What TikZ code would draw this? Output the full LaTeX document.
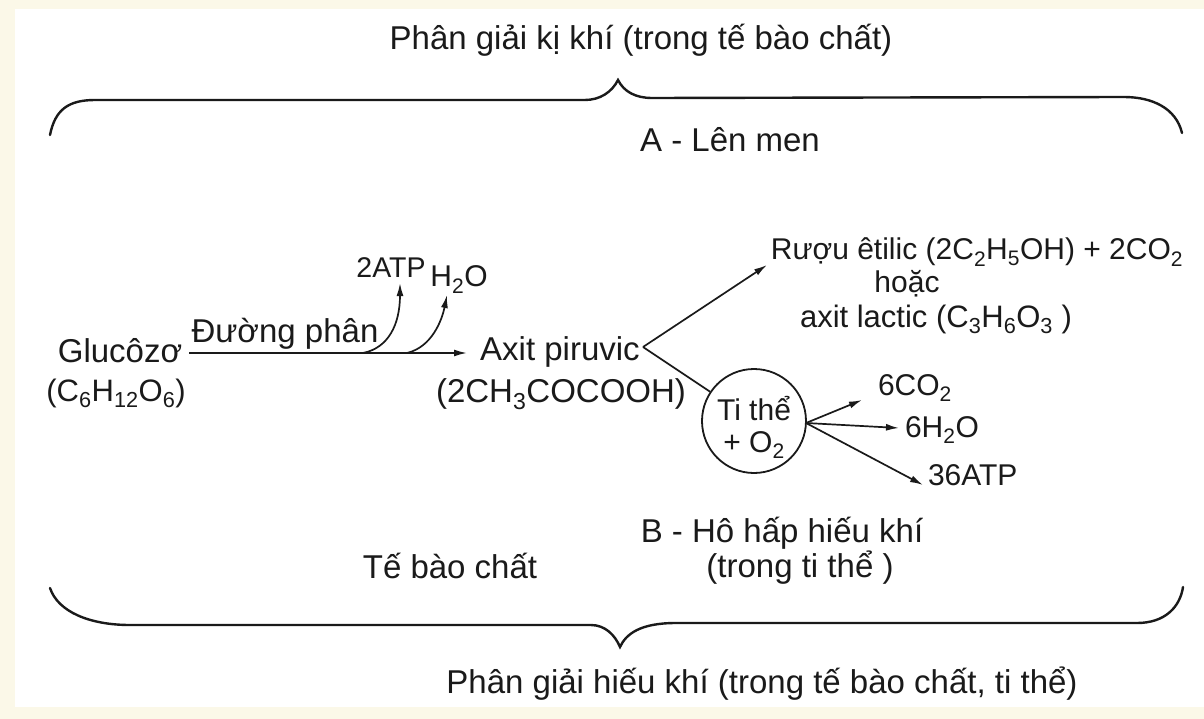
\documentclass[tikz,border=0pt]{standalone}
\usepackage{fontspec}
\setmainfont{Liberation Sans}
\usetikzlibrary{arrows.meta,calc}
\definecolor{ink}{HTML}{1A1A1A}
\definecolor{cream}{HTML}{FBF8E8}
\tikzset{
  txt/.style={inner sep=0pt, outer sep=0pt, text=ink, font=\fontsize{33}{38}\selectfont, anchor=base},
  stxt/.style={txt, font=\fontsize{30}{35}\selectfont},
  arr/.style={draw=ink, line width=1.7pt, -{Latex[length=13pt,width=7pt]}},
  ln/.style={draw=ink, line width=1.7pt},
  brace/.style={draw=ink, line width=2.4pt, line cap=round},
  mito/.style={draw=ink, line width=1.8pt, circle, minimum size=104pt, inner sep=0pt}
}
\begin{document}
\begin{tikzpicture}[x=1pt,y=-1pt]
\useasboundingbox (0,0) rectangle (1204,719);
\fill[cream] (0,0) rectangle (1204,719);
\fill[white] (15,9) rectangle (1204,707);

% titles
\node[txt] (top) at (641,50) {Phân giải kị khí (trong tế bào chất)};
\node[txt] (lenmen) at (730,152) {A - Lên men};
\node[txt] (bottom) at (762,693) {Phân giải hiếu khí (trong tế bào chất, ti thể)};
\node[txt] (tbc) at (450,578) {Tế bào chất};
\node[txt] (hohap) at (782,542) {B - Hô hấp hiếu khí};
\node[txt] (trongti) at (800,577) {(trong ti thể )};

% braces
\draw[brace] (50,135) .. controls (55,110) and (68,100) .. (95,100) -- (585,100)
  .. controls (600,100) and (612,92) .. (618,80)
  .. controls (624,92) and (636,98) .. (652,98) -- (1124,97)
  .. controls (1152,97) and (1176,108) .. (1182,133);
\draw[brace] (50,588) .. controls (58,612) and (90,625) .. (130,625) -- (591,625)
  .. controls (605,625) and (615,635) .. (620,647)
  .. controls (626,634) and (640,623) .. (676,623) -- (1137,623)
  .. controls (1165,623) and (1180,607) .. (1183,587);

% left part
\node[txt] (gluc) at (120,362) {Glucôzơ};
\node[txt, font=\fontsize{31}{36}\selectfont] (glucf) at (116,401) {(C\textsubscript{6}H\textsubscript{12}O\textsubscript{6})};
\node[txt] (dp) at (285,342) {Đường phân};
\node[stxt, font=\fontsize{28.5}{33}\selectfont] (atp2) at (391,277) {2ATP};
\node[stxt] (h2o) at (459,287) {H\textsubscript{2}O};
\node[txt] (axit) at (560,360) {Axit piruvic};
\node[txt] (axitf) at (561,402) {(2CH\textsubscript{3}COCOOH)};

\coordinate (g0) at (189,353);
\coordinate (a0) at (467,353);
\coordinate (b1) at (363,353);
\coordinate (b2) at (407,353);
\coordinate (t1) at (400,283);
\coordinate (t2) at (447,295);
\draw[arr] (g0) -- (a0);
\draw[arr] (b1) .. controls (388,348) and (400,325) .. (t1);
\draw[arr] (b2) .. controls (432,347) and (442,320) .. (t2);

% fork
\coordinate (fork) at (643,347);
\coordinate (ruoutip) at (767,265);
\node[stxt] (ruou) at (977,260) {Rượu êtilic (2C\textsubscript{2}H\textsubscript{5}OH) + 2CO\textsubscript{2}};
\node[stxt] (hoac) at (907,292) {hoặc};
\node[stxt, font=\fontsize{31}{36}\selectfont] (lactic) at (936,327) {axit lactic (C\textsubscript{3}H\textsubscript{6}O\textsubscript{3} )};
\draw[arr] (fork) -- (ruoutip);

\node[mito] (ti) at (754,421) {};
\node[stxt] (tithe) at (754,420) {Ti thể};
\node[stxt] (o2) at (754,452) {+ O\textsubscript{2}};
\draw[ln] (fork) -- (ti);

\coordinate (o) at (806,423);
\node[stxt, anchor=base west] (co2) at (878,395) {6CO\textsubscript{2}};
\node[stxt, anchor=base west] (h2o6) at (905,437) {6H\textsubscript{2}O};
\node[stxt, anchor=base west] (atp36) at (928,485) {36ATP};
\coordinate (c1) at (862,400);
\coordinate (c2) at (899,428);
\coordinate (c3) at (923,485);
\draw[arr] (o) -- (c1);
\draw[arr] (o) -- (c2);
\draw[arr] (o) -- (c3);
\end{tikzpicture}
\end{document}
